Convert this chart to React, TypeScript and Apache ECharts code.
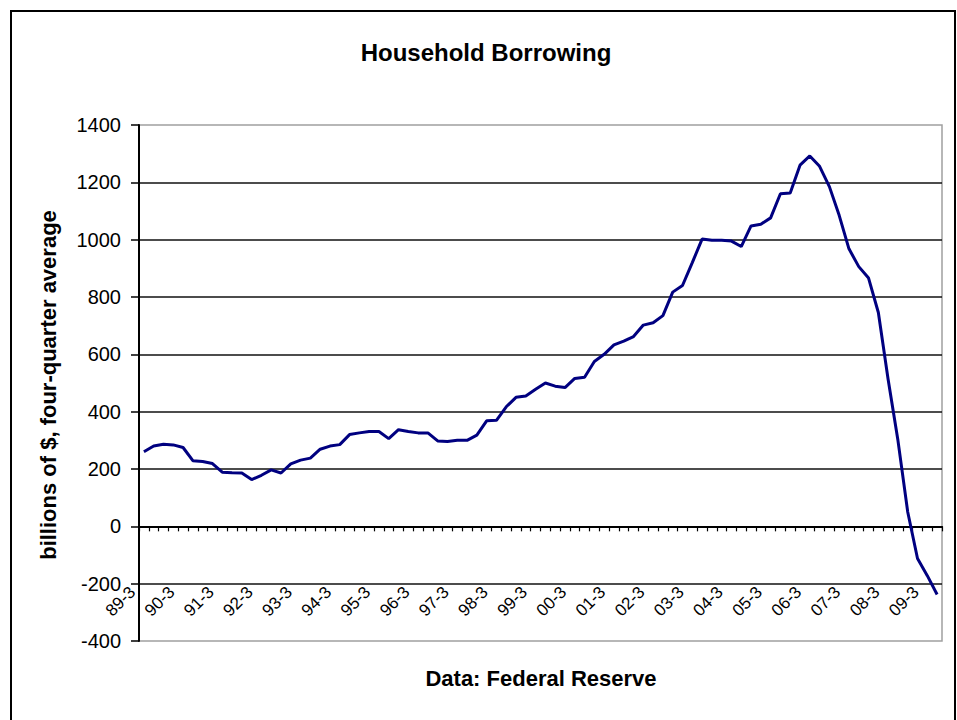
import React, { useEffect, useRef } from "react";
import * as echarts from "echarts";

// Quarterly categories 89-3 .. 09-4
const quarters: string[] = [];
for (let y = 1989; y <= 2009; y++) {
  for (let q = 1; q <= 4; q++) {
    if (y === 1989 && q < 3) continue;
    quarters.push(String(y % 100).padStart(2, "0") + "-" + q);
  }
}

const borrowing: number[] = [
  260, 280, 286, 284, 275, 229, 226, 219, 189, 187,
  186, 163, 178, 197, 186, 218, 231, 238, 269, 280,
  285, 320, 326, 331, 331, 306, 337, 331, 326, 326,
  298, 296, 300, 300, 318, 368, 370, 417, 450, 455,
  478, 500, 489, 484, 516, 520, 575, 600, 633, 646,
  662, 702, 710, 735, 817, 840, 920, 1002, 998, 998,
  995, 976, 1048, 1054, 1076, 1160, 1163, 1260, 1292, 1256,
  1185, 1085, 968, 906, 866, 746, 512, 300, 50, -112,
  -172, -238,
];

const titleText = "Household Borrowing";
const yAxisTitle = "billions of $, four-quarter average";
const sourceText = "Data: Federal Reserve";

const FONT = '"Liberation Sans", Arial, sans-serif';

export default function App() {
  const ref = useRef<HTMLDivElement>(null);
  useEffect(() => {
    if (!ref.current) return;
    const chart = echarts.init(ref.current, undefined, { renderer: "svg" });
    chart.setOption({
      animation: false,
      backgroundColor: "#fff",
      textStyle: { fontFamily: FONT },
      grid: {
        left: 139,
        top: 125,
        width: 803,
        height: 516,
        show: true,
        borderColor: "#a0a0a0",
        borderWidth: 1.5,
        backgroundColor: "transparent",
        containLabel: false,
        outerBoundsMode: "none",
      },
      xAxis: {
        type: "category",
        data: quarters,
        boundaryGap: true,
        axisLine: { onZero: true, lineStyle: { color: "#000", width: 2 } },
        axisTick: {
          show: true,
          interval: 0,
          inside: false,
          length: 5,
          lineStyle: { color: "#000", width: 1.2 },
        },
        axisLabel: {
          interval: 3,
          rotate: 45,
          margin: -63,
          padding: [0, 16, 0, 0],
          fontSize: 17,
          color: "#000",
          fontFamily: FONT,
        },
        splitLine: { show: false },
      },
      yAxis: {
        type: "value",
        min: -400,
        max: 1400,
        interval: 200,
        axisLine: { show: true, onZero: false, lineStyle: { color: "#000", width: 2 } },
        axisTick: { show: true, length: 8, lineStyle: { color: "#000", width: 1.5 } },
        axisLabel: {
          fontSize: 20,
          color: "#000",
          margin: 18,
          fontFamily: FONT,
          formatter: (v: number) => String(v),
        },
        splitLine: {
          show: true,
          showMinLine: false,
          showMaxLine: false,
          lineStyle: { color: "#111", width: 1.6 },
        },
      },
      series: [
        {
          type: "line",
          data: borrowing,
          smooth: false,
          symbol: "none",
          lineStyle: { color: "#000080", width: 3 },
          itemStyle: { color: "#000080" },
        },
      ],
      graphic: [
        {
          type: "rect",
          shape: { x: 11, y: 11, width: 944, height: 720 },
          style: { fill: "none", stroke: "#000", lineWidth: 2 },
          silent: true,
          z: 100,
        },
        {
          type: "text",
          x: 486,
          y: 52,
          style: {
            text: titleText,
            fontSize: 24,
            fontWeight: "bold",
            fontFamily: FONT,
            fill: "#000",
            textAlign: "center",
            textVerticalAlign: "middle",
          },
        },
        {
          type: "text",
          x: 48,
          y: 385,
          rotation: Math.PI / 2,
          style: {
            text: yAxisTitle,
            fontSize: 22,
            fontWeight: "bold",
            fontFamily: FONT,
            fill: "#000",
            textAlign: "center",
            textVerticalAlign: "middle",
          },
        },
        {
          type: "text",
          x: 541,
          y: 678,
          style: {
            text: sourceText,
            fontSize: 22,
            fontWeight: "bold",
            fontFamily: FONT,
            fill: "#000",
            textAlign: "center",
            textVerticalAlign: "middle",
          },
        },
      ],
    });
    return () => chart.dispose();
  }, []);
  return (
    <div
      ref={ref}
      style={{ position: "fixed", left: 0, top: 0, width: 957, height: 720 }}
    />
  );
}
